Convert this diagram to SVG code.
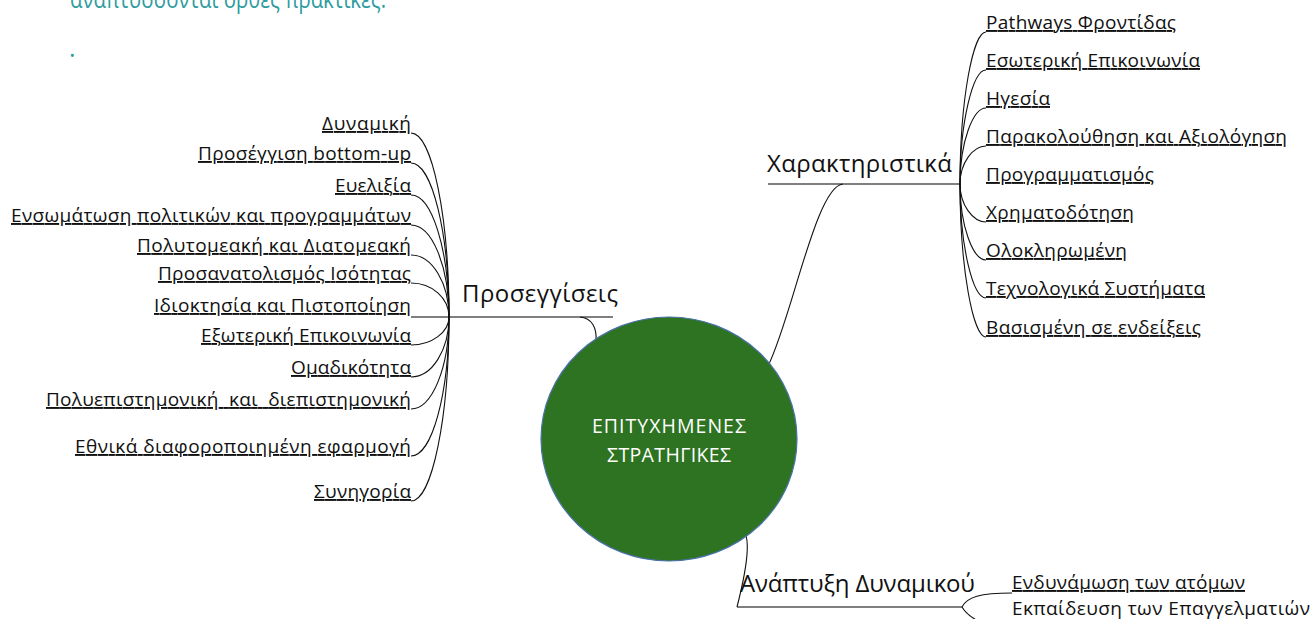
<svg xmlns="http://www.w3.org/2000/svg" width="1313" height="619" viewBox="0 0 1313 619">
<style>
text{font-family:"Open Sans","Noto Sans","DejaVu Sans",sans-serif;}
.leaf{font-size:19px;fill:#111;text-decoration:underline;text-decoration-thickness:1.5px;}
.plain{font-size:19px;fill:#111;}
.branch{font-size:24px;fill:#111;}
.hdr{font-size:25px;fill:#2E9C9F;}
.ctext{font-size:19.5px;fill:#fff;}
.conn{fill:none;stroke:#111;stroke-width:1.1;}
.bar{fill:none;stroke:#555;stroke-width:1.6;}
</style>
<rect width="1313" height="619" fill="#fff"/>
<g id="header">
<text class="hdr" x="70" y="8" textLength="316" lengthAdjust="spacingAndGlyphs">αναπτύσσονται ορθές πρακτικές.</text>
<text class="hdr" x="69" y="57">.</text>
</g>
<g id="connectors">
<path class="bar" d="M411,317 H613"/>
<path class="bar" d="M768,184 H960"/>
<path class="bar" d="M737,607 H962"/>
<path class="conn" d="M580,317 C592,318 597,328 596,341"/>
<path class="conn" d="M768,366 C792,318 816,186 843,184"/>
<path class="conn" d="M738,527 C752,529 749,560 737,607"/>
<path class="conn" d="M962,607 C967,597 980,593 1012,593"/>
<path class="conn" d="M962,607 C966,614 972,618 980,622"/>
<path class="conn" d="M411,133 C432,133 449,216 449,317"/>
<path class="conn" d="M411,163 C432,163 449,232 449,317"/>
<path class="conn" d="M411,195 C432,195 449,250 449,317"/>
<path class="conn" d="M411,225 C432,225 449,266 449,317"/>
<path class="conn" d="M411,255 C432,255 449,283 449,317"/>
<path class="conn" d="M411,283 C432,283 449,298 449,317"/>
<path class="conn" d="M411,345 C432,345 449,332 449,317"/>
<path class="conn" d="M411,377 C432,377 449,350 449,317"/>
<path class="conn" d="M411,409 C432,409 449,368 449,317"/>
<path class="conn" d="M411,456 C432,456 449,394 449,317"/>
<path class="conn" d="M411,501 C432,501 449,418 449,317"/>
<path class="conn" d="M986,32 C973,32 960,100 960,184"/>
<path class="conn" d="M986,70 C973,70 960,121 960,184"/>
<path class="conn" d="M986,108 C973,108 960,142 960,184"/>
<path class="conn" d="M986,146 C973,146 960,163 960,184"/>
<path class="conn" d="M986,222 C973,222 960,205 960,184"/>
<path class="conn" d="M986,260 C973,260 960,226 960,184"/>
<path class="conn" d="M986,298 C973,298 960,247 960,184"/>
<path class="conn" d="M986,337 C973,337 960,268 960,184"/>
</g>
<g id="center">
<ellipse cx="669" cy="439" rx="128" ry="122" fill="#2E7322" stroke="#4A72A8" stroke-width="1.2"/>
<text class="ctext" x="592" y="433" textLength="154">ΕΠΙΤΥΧΗΜΕΝΕΣ</text>
<text class="ctext" x="607" y="462" textLength="124">ΣΤΡΑΤΗΓΙΚΕΣ</text>
</g>
<g id="approaches">
<text class="branch" x="462" y="302" textLength="156">Προσεγγίσεις</text>
</g>
<g id="approaches-items">
<text class="leaf" x="322" y="130" textLength="89">Δυναμική</text>
<text class="leaf" x="198" y="160" textLength="213">Προσέγγιση bottom-up</text>
<text class="leaf" x="335" y="192" textLength="76">Ευελιξία</text>
<text class="leaf" x="11" y="222" textLength="400">Ενσωμάτωση πολιτικών και προγραμμάτων</text>
<text class="leaf" x="137" y="252" textLength="274">Πολυτομεακή και Διατομεακή</text>
<text class="leaf" x="158" y="280" textLength="253">Προσανατολισμός Ισότητας</text>
<text class="leaf" x="154" y="312" textLength="257">Ιδιοκτησία και Πιστοποίηση</text>
<text class="leaf" x="201" y="342" textLength="210">Εξωτερική Επικοινωνία</text>
<text class="leaf" x="291" y="374" textLength="120">Ομαδικότητα</text>
<text class="leaf" x="46" y="406" textLength="365" xml:space="preserve">Πολυεπιστημονική  και  διεπιστημονική</text>
<text class="leaf" x="75" y="453" textLength="336">Εθνικά διαφοροποιημένη εφαρμογή</text>
<text class="leaf" x="314" y="498" textLength="97">Συνηγορία</text>
</g>
<g id="characteristics">
<text class="branch" x="767" y="172" textLength="185">Χαρακτηριστικά</text>
</g>
<g id="characteristics-items">
<text class="leaf" x="986" y="29" textLength="190">Pathways Φροντίδας</text>
<text class="leaf" x="986" y="67" textLength="214">Εσωτερική Επικοινωνία</text>
<text class="leaf" x="986" y="105" textLength="64">Ηγεσία</text>
<text class="leaf" x="986" y="143" textLength="301">Παρακολούθηση και Αξιολόγηση</text>
<text class="leaf" x="986" y="181" textLength="168">Προγραμματισμός</text>
<text class="leaf" x="986" y="219" textLength="148">Χρηματοδότηση</text>
<text class="leaf" x="986" y="257" textLength="141">Ολοκληρωμένη</text>
<text class="leaf" x="986" y="295" textLength="219">Τεχνολογικά Συστήματα</text>
<text class="leaf" x="986" y="334" textLength="215">Βασισμένη σε ενδείξεις</text>
</g>
<g id="development">
<text class="branch" x="740" y="592" textLength="235">Ανάπτυξη Δυναμικού</text>
</g>
<g id="development-items">
<text class="leaf" x="1012" y="589" textLength="233">Ενδυνάμωση των ατόμων</text>
<text class="plain" x="1012" y="615" textLength="298">Εκπαίδευση των Επαγγελματιών</text>
</g>
</svg>
